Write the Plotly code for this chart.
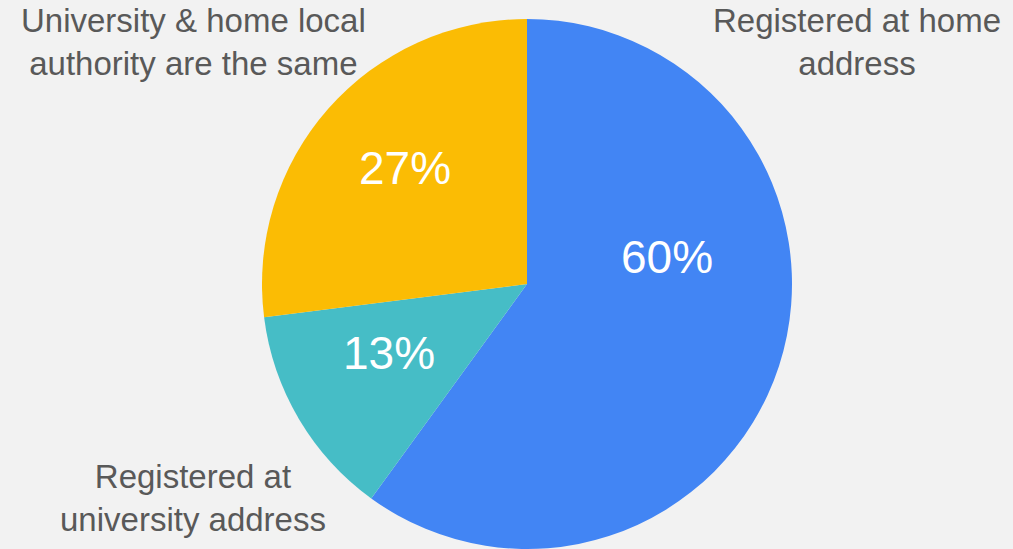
import plotly.graph_objects as go

labels = ["Registered at home address", "Registered at university address", "University & home local authority are the same"]
values = [60, 13, 27]
colors = ["#4285f4", "#46bdc6", "#fbbc04"]
label_text = ["Registered at home<br>address", "Registered at<br>university address", "University & home local<br>authority are the same"]

W, H = 1013, 549
cx, cy, r = 527, 284, 265

fig = go.Figure(go.Pie(
    labels=labels, values=values, sort=False, direction="clockwise", rotation=0,
    marker=dict(colors=colors, line=dict(width=0)),
    textinfo="none",
    domain=dict(x=[(cx - r) / W, (cx + r) / W], y=[1 - (cy + r) / H, 1 - (cy - r) / H]),
    showlegend=False, hoverinfo="label+percent",
))

total = sum(values)
pct_pos = [(667, 257), (389, 353), (405, 168)]
for v, (x, y) in zip(values, pct_pos):
    fig.add_annotation(x=x / W, y=1 - y / H, xref="paper", yref="paper",
                       text=f"{round(100 * v / total)}%", showarrow=False,
                       font=dict(size=46, color="white", family="Liberation Sans"),
                       xanchor="center", yanchor="middle")

ann_pos = [(857, 42), (193, 498), (193, 42)]
for t, (x, y) in zip(label_text, ann_pos):
    fig.add_annotation(x=x / W, y=1 - y / H, xref="paper", yref="paper", text=t, showarrow=False,
                       font=dict(size=33, color="#595959", family="Liberation Sans"), align="center",
                       xanchor="center", yanchor="middle")

fig.update_layout(width=W, height=H, margin=dict(l=0, r=0, t=0, b=0),
                  paper_bgcolor="#f2f2f2", plot_bgcolor="#f2f2f2")
fig.write_html("out.html", config={"displayModeBar": False},
               post_script="document.body.style.margin='0';")
